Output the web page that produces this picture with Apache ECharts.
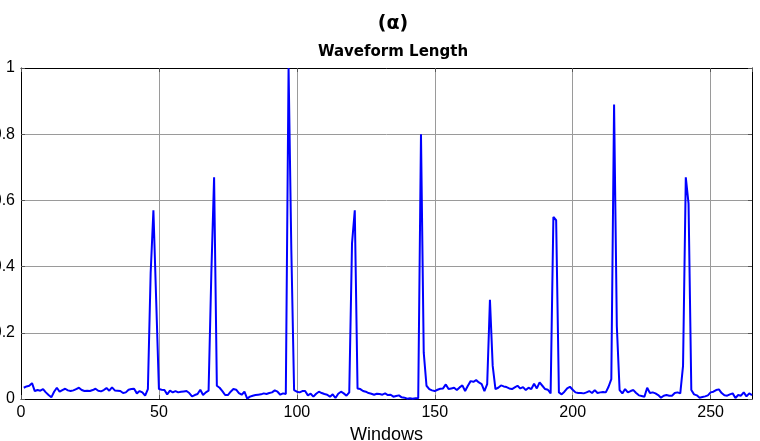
<!DOCTYPE html>
<html>
<head>
<meta charset="utf-8">
<script src="https://cdn.jsdelivr.net/npm/echarts@6/dist/echarts.min.js"></script>
<style>
  html, body { margin: 0; padding: 0; background: #fff; }
  #chart { width: 760px; height: 441px; }
</style>
</head>
<body>
<div id="chart"></div>
<script>
var figTitle = '(α)';
var plotTitle = 'Waveform Length';
var xName = 'Windows';
var xTicks = [0, 50, 100, 150, 200, 250];
var yTicks = [0, 0.2, 0.4, 0.6, 0.8, 1];

// waveform length per window, windows 1..265
var wfl = [
    0.034, 0.038, 0.040, 0.048, 0.024, 0.027, 0.025, 0.030, 0.020, 0.012,
    0.005, 0.022, 0.034, 0.022, 0.027, 0.031, 0.026, 0.024, 0.026, 0.030,
    0.034, 0.027, 0.024, 0.025, 0.024, 0.027, 0.031, 0.025, 0.023, 0.027,
    0.033, 0.025, 0.035, 0.026, 0.025, 0.024, 0.018, 0.020, 0.028, 0.030,
    0.031, 0.017, 0.024, 0.020, 0.010, 0.030, 0.380, 0.570, 0.300, 0.030,
    0.028, 0.027, 0.014, 0.025, 0.020, 0.024, 0.020, 0.022, 0.023, 0.024,
    0.018, 0.008, 0.012, 0.015, 0.028, 0.012, 0.020, 0.025, 0.380, 0.670,
    0.040, 0.034, 0.024, 0.012, 0.012, 0.022, 0.030, 0.028, 0.018, 0.013,
    0.022, 0.001, 0.007, 0.010, 0.012, 0.013, 0.014, 0.017, 0.015, 0.018,
    0.020, 0.026, 0.022, 0.013, 0.017, 0.015, 1.000, 0.450, 0.027, 0.022,
    0.020, 0.024, 0.024, 0.011, 0.016, 0.007, 0.016, 0.022, 0.018, 0.015,
    0.013, 0.007, 0.014, 0.003, 0.016, 0.022, 0.017, 0.010, 0.020, 0.470,
    0.570, 0.032, 0.030, 0.024, 0.022, 0.018, 0.016, 0.013, 0.016, 0.015,
    0.013, 0.017, 0.012, 0.013, 0.007, 0.009, 0.011, 0.005, 0.004, 0.001,
    0.002, 0.001, 0.002, 0.002, 0.800, 0.140, 0.040, 0.030, 0.026, 0.024,
    0.028, 0.031, 0.032, 0.044, 0.030, 0.032, 0.034, 0.027, 0.035, 0.041,
    0.024, 0.040, 0.054, 0.052, 0.057, 0.050, 0.045, 0.024, 0.045, 0.300,
    0.100, 0.030, 0.034, 0.041, 0.038, 0.036, 0.032, 0.030, 0.035, 0.040,
    0.032, 0.036, 0.027, 0.034, 0.030, 0.046, 0.032, 0.050, 0.040, 0.030,
    0.028, 0.017, 0.550, 0.540, 0.020, 0.014, 0.022, 0.032, 0.037, 0.028,
    0.020, 0.018, 0.018, 0.017, 0.020, 0.024, 0.018, 0.027, 0.018, 0.020,
    0.021, 0.020, 0.037, 0.060, 0.890, 0.220, 0.027, 0.017, 0.030, 0.020,
    0.024, 0.027, 0.018, 0.011, 0.009, 0.007, 0.034, 0.018, 0.020, 0.017,
    0.012, 0.004, 0.010, 0.012, 0.010, 0.010, 0.018, 0.020, 0.017, 0.100,
    0.670, 0.590, 0.027, 0.014, 0.011, 0.004, 0.006, 0.008, 0.011, 0.020,
    0.022, 0.027, 0.029, 0.018, 0.011, 0.010, 0.014, 0.017, 0.003, 0.012,
    0.010, 0.020, 0.008, 0.017, 0.012
];

var chart = echarts.init(document.getElementById('chart'));

var points = wfl.map(function (v, k) { return [k + 1, v]; });
var xStep = xTicks[1] - xTicks[0];
var yStep = yTicks[1] - yTicks[0];
var xMax = wfl.length;

var gridColor = '#9a9a9a';
var font = 'Liberation Sans, Arial, sans-serif';

function boxAxis(pos, isX) {
    // plain frame line with inward ticks, no labels
    return {
        type: 'value',
        position: pos,
        min: isX ? xTicks[0] : yTicks[0],
        max: isX ? xMax : yTicks[yTicks.length - 1],
        interval: isX ? xStep : yStep,
        axisLine: { show: true, onZero: false, lineStyle: { color: '#000', width: 1 } },
        axisTick: { show: true, inside: true, length: 4, lineStyle: { color: '#555' } },
        axisLabel: { show: false },
        splitLine: { show: false }
    };
}

var option = {
    animation: false,
    backgroundColor: '#fff',
    title: [{
        text: figTitle,
        left: 388,
        textAlign: 'center',
        top: 10,
        textStyle: { fontFamily: 'DejaVu Sans', fontWeight: 'bold', fontSize: 19, color: '#000' }
    }, {
        text: plotTitle,
        left: 388,
        textAlign: 'center',
        top: 40,
        textStyle: { fontFamily: 'DejaVu Sans', fontWeight: 'bold', fontSize: 15, color: '#000' }
    }],
    grid: { left: 21, right: 8, top: 68, bottom: 42, containLabel: false, outerBoundsMode: 'none' },
    xAxis: [{
        type: 'value',
        position: 'bottom',
        min: xTicks[0],
        max: xMax,
        interval: xStep,
        name: xName,
        nameLocation: 'middle',
        nameGap: 20,
        nameTextStyle: { fontFamily: font, fontSize: 18, color: '#000' },
        axisLine: { show: true, onZero: false, lineStyle: { color: '#000', width: 1 } },
        axisTick: { show: true, inside: true, length: 4, lineStyle: { color: '#555' } },
        axisLabel: { fontFamily: font, fontSize: 16, color: '#000', margin: 6, showMaxLabel: false },
        splitLine: { show: true, lineStyle: { color: gridColor, width: 1 } }
    }, boxAxis('top', true)],
    yAxis: [{
        type: 'value',
        position: 'left',
        min: yTicks[0],
        max: yTicks[yTicks.length - 1],
        interval: yStep,
        axisLine: { show: true, onZero: false, lineStyle: { color: '#000', width: 1 } },
        axisTick: { show: true, inside: true, length: 4, lineStyle: { color: '#555' } },
        axisLabel: { fontFamily: font, fontSize: 16, color: '#000', margin: 6 },
        splitLine: { show: true, lineStyle: { color: gridColor, width: 1 } }
    }, boxAxis('right', false)],
    series: [{
        name: plotTitle,
        type: 'line',
        data: points,
        showSymbol: false,
        symbol: 'none',
        lineStyle: { color: '#0000ff', width: 2 },
        clip: true
    }]
};

chart.setOption(option);
</script>
</body>
</html>
